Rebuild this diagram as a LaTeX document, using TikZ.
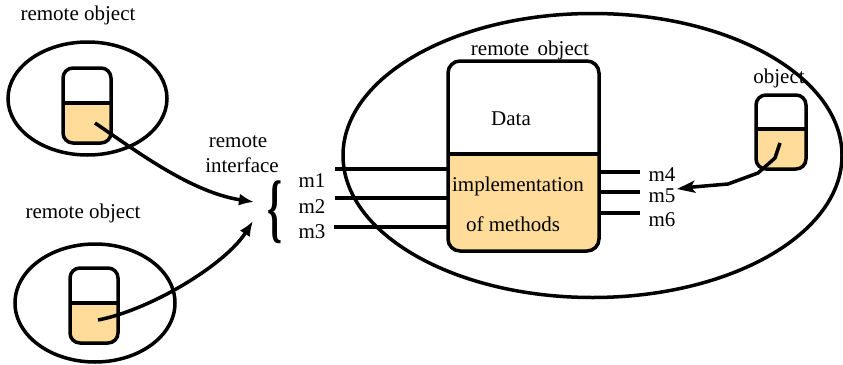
\documentclass[tikz,border=0pt]{standalone}
\usepackage{fontspec}
\setmainfont{Liberation Serif}
\usetikzlibrary{arrows.meta}
\definecolor{methodfill}{HTML}{FFDC9A}

% capsule-shaped object: name, x1, y1, x2, y2, divider y, corner radius
\newcommand\objcapsule[7]{%
  \begin{scope}
    \clip[rounded corners=#7] (#2,#3) rectangle (#4,#5);
    \fill[methodfill] (#2,#6) rectangle (#4,#5);
  \end{scope}
  \node (#1) [draw, line width=3.5pt, rounded corners=#7, inner sep=0pt,
    outer sep=0pt, minimum width={(#4-#2)*1pt}, minimum height={(#5-#3)*1pt}]
    at ({(#2+#4)/2},{(#3+#5)/2}) {};
  \draw[line width=3.5pt] (#2,#6) -- (#4,#6);
}

\begin{document}
\begin{tikzpicture}[x=1pt,y=-1pt,
  outline/.style={line width=3.5pt},
  lbl/.style={font=\fontsize{21}{24}\selectfont, inner sep=0pt},
  mlbl/.style={lbl, text height=13pt, text depth=0pt},
  link/.style={line width=3.5pt, line join=round, -{Latex[length=15pt,width=12pt]}},
  method/.style={line width=3.5pt},
]
\useasboundingbox (0,0) rectangle (843,364);

% client objects
\draw[outline] (87.5,98.5) ellipse [x radius=79.5pt, y radius=56.5pt];
\objcapsule{objA}{63}{68}{111}{143}{103}{10pt}
\node[lbl] (labA) at (78,15) {remote object};

\draw[outline] (95,303) ellipse [x radius=80pt, y radius=59pt];
\objcapsule{objB}{70}{268}{118}{343}{303}{10pt}
\node[lbl] (labB) at (83,213) {remote object};

% server side
\draw[outline] (592.5,155.5) ellipse [x radius=249.5pt, y radius=142pt];
\objcapsule{impl}{448}{61}{599}{251}{154}{12pt}
\node[lbl] (labImpl) at (530,50) {remote\hspace{0.4em}object};
\node[lbl] (data) at (511,119) {Data};
\node[lbl] (impltxt) at (518,186) {implementation};
\node[lbl] (methtxt) at (513,224) {of methods};

\objcapsule{objC}{756}{95}{806}{169}{129}{10pt}
\node[lbl] (labC) at (779,78) {object};

% remote interface
\node[lbl] (iftop) at (238,142) {remote};
\node[lbl] (ifbot) at (242,165) {interface};
\node[inner sep=0pt, font=\fontsize{76}{76}\selectfont\bfseries] (brace) at (275,212.5) {\scalebox{0.5}[1]{\{}};

\node[mlbl] (m1) at (312,181) {m1};
\node[mlbl] (m2) at (312,207) {m2};
\node[mlbl] (m3) at (312,232) {m3};
\coordinate (m1in) at (335,169);
\coordinate (m2in) at (335,198);
\coordinate (m3in) at (334,227);
\draw[method] (m1in) -- (m1in -| impl.west);
\draw[method] (m2in) -- (m2in -| impl.west);
\draw[method] (m3in) -- (m3in -| impl.west);

\node[mlbl] (m4) at (662,175) {m4};
\node[mlbl] (m5) at (662,196) {m5};
\node[mlbl] (m6) at (662,220) {m6};
\coordinate (m4out) at (640,172);
\coordinate (m5out) at (640,192);
\coordinate (m6out) at (640,213);
\draw[method] (m4out -| impl.east) -- (m4out);
\draw[method] (m5out -| impl.east) -- (m5out);
\draw[method] (m6out -| impl.east) -- (m6out);

% invocations
\coordinate (srcA) at (95,123);
\coordinate (srcB) at (98,320);
\coordinate (srcC) at (780,143);
\coordinate (ifA) at (254,202);
\coordinate (ifB) at (253,221);
\coordinate (m5tip) at (677,189);

\draw[link] (srcA) .. controls (135,150) and (190,192) .. (ifA);
\draw[link] (srcB) .. controls (150,310) and (225,265) .. (ifB);
\draw[link, -{Stealth[length=18pt,width=12pt,inset=4pt]}] (srcC) -- (775,158) -- (758,173) -- (728,184) -- (693,187) -- (m5tip);
\end{tikzpicture}
\end{document}
